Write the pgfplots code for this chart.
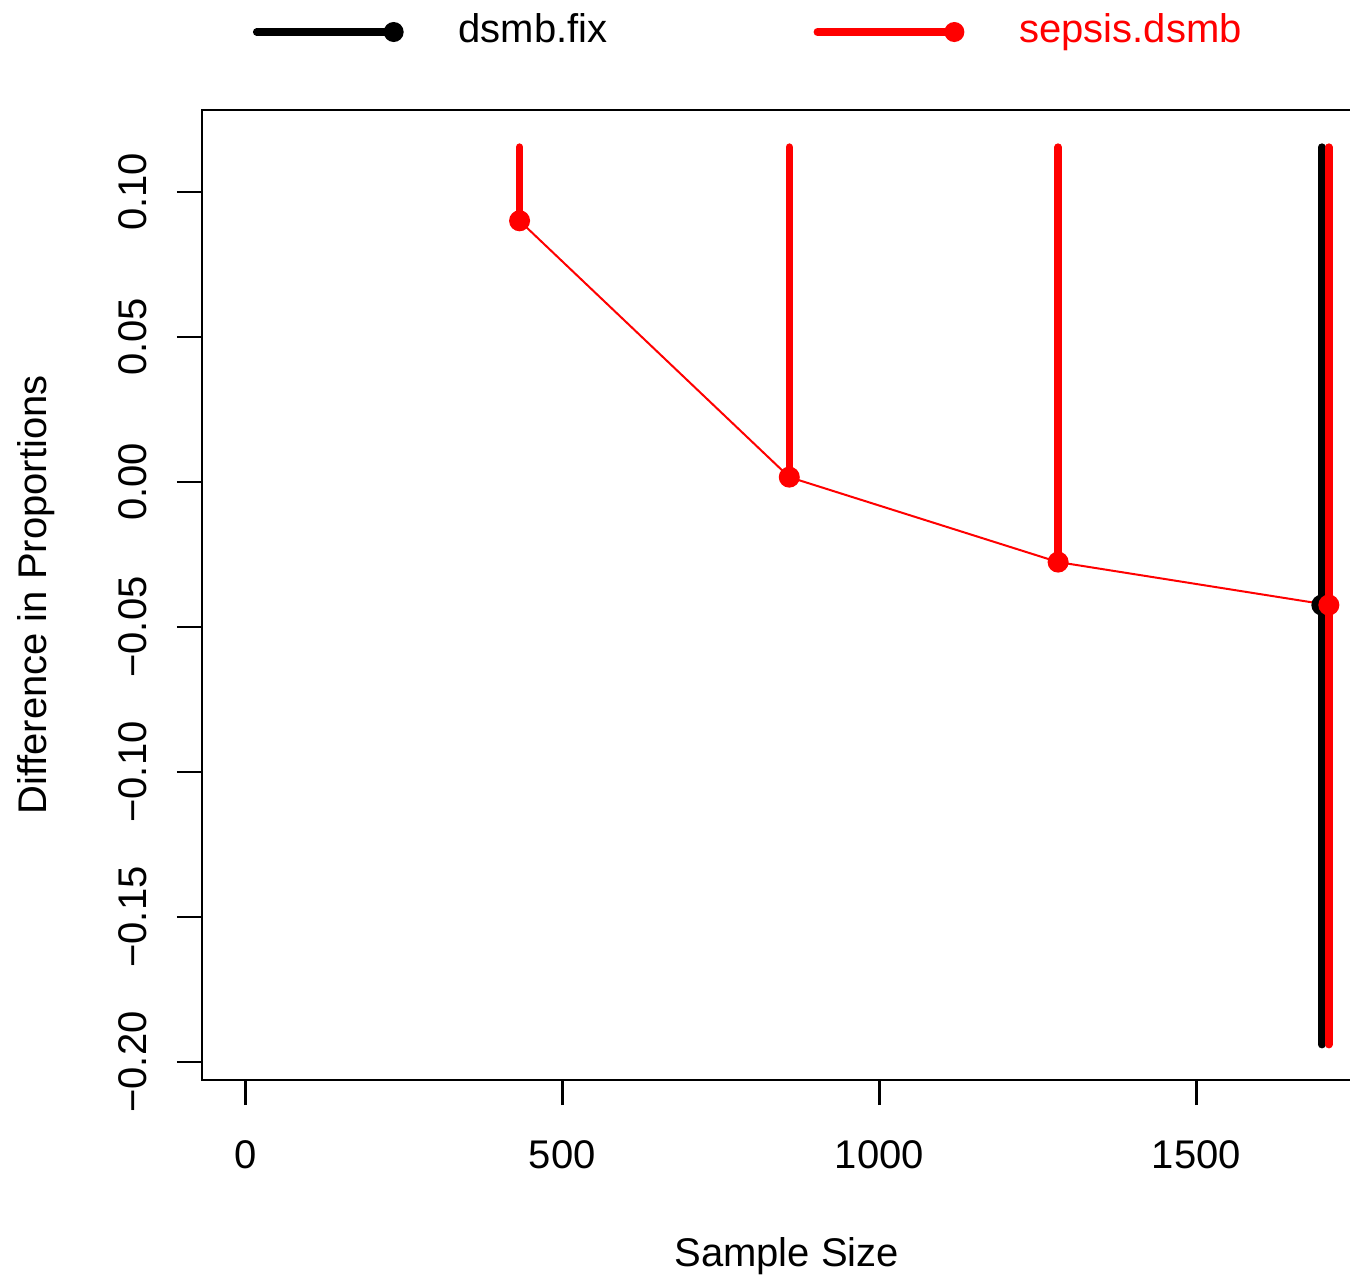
\documentclass[border=0pt]{standalone}
\usepackage{fontspec}
\setmainfont{Liberation Sans}
\usepackage{pgfplots}
\pgfplotsset{compat=1.18}
\begin{document}
\begin{tikzpicture}[font=\fontsize{8}{9.6}\selectfont]
\begin{axis}[name=ax, scale only axis, width=233.9pt, height=194pt,
  xmin=-68.3, xmax=1776.3, ymin=-0.2062, ymax=0.1283,
  axis line style={line width=0.55pt},
  tick style={line width=0.55pt, black},
  major tick length=5pt, tick align=outside, tick pos=left,
  xtick={0,500,1000,1500}, xticklabels={0,500,1000,1500},
  ytick={-0.2,-0.15,-0.1,-0.05,0,0.05,0.1},
  yticklabels={−0.20,−0.15,−0.10,−0.05,0.00,0.05,0.10},
  /pgf/number format/assume math mode=true,
  xticklabel style={font=\fontsize{8}{9.6}\selectfont, anchor=north, inner sep=0pt},
  yticklabel style={font=\fontsize{8}{9.6}\selectfont, rotate=90, anchor=south, inner sep=0pt},
  xticklabel shift=7pt, yticklabel shift=5.8pt,
  xlabel={Sample Size}, ylabel={Difference in Proportions},
  xlabel style={at={(axis description cs:0.5,-0.1918)}, anchor=base, inner sep=0pt},
  ylabel style={at={(axis description cs:-0.1326,0.5)}, anchor=base, rotate=0, inner sep=0pt},
  legend columns=2,
  legend style={at={(axis description cs:0.0427,1.0804)}, anchor=west, draw=none, fill=none,
    inner sep=0pt, font=\fontsize{8}{9.6}\selectfont,
    nodes={inner sep=0pt},
    /tikz/every odd column/.append style={column sep=11.0pt},
    /tikz/every even column/.append style={column sep=41.2pt}},
]
% black (dsmb.fix)
\addplot[black, line width=1.5pt, line cap=round, forget plot] coordinates {(1698,0.1155) (1698,-0.194)};
\addplot[black, only marks, mark=*, mark size=1.9pt,
  legend image code/.code={\draw[black, line width=1.5pt, line cap=round] (0pt,0pt) -- (27.4pt,0pt); \fill[black] (27.4pt,0pt) circle (1.8pt);}]
  coordinates {(1698,-0.0424)};
\addlegendentry{dsmb.fix}
% red (sepsis.dsmb) vertical bars
\addplot[red, line width=1.5pt, line cap=round, forget plot] coordinates {(432.6,0.1155) (432.6,0.0901)};
\addplot[red, line width=1.5pt, line cap=round, forget plot] coordinates {(858,0.1155) (858,0.0017)};
\addplot[red, line width=1.5pt, line cap=round, forget plot] coordinates {(1282,0.1155) (1282,-0.0276)};
\addplot[red, line width=1.5pt, line cap=round, forget plot] coordinates {(1709,0.1155) (1709,-0.194)};
\addplot[red, line width=0.4pt, mark=*, mark size=1.9pt, mark options={fill=red, draw=red},
  legend image code/.code={\draw[red, line width=1.5pt, line cap=round] (0pt,0pt) -- (27.4pt,0pt); \fill[red] (27.4pt,0pt) circle (1.8pt);}]
  coordinates {(432.6,0.0901) (858,0.0017) (1282,-0.0276) (1709,-0.0424)};
\addlegendentry{\textcolor{red}{sepsis.dsmb}}
\end{axis}
\pgfresetboundingbox
\path ([shift={(-40.4pt,-38.8pt)}]ax.south west) rectangle ++(270pt,254.8pt);
\end{tikzpicture}
\end{document}
